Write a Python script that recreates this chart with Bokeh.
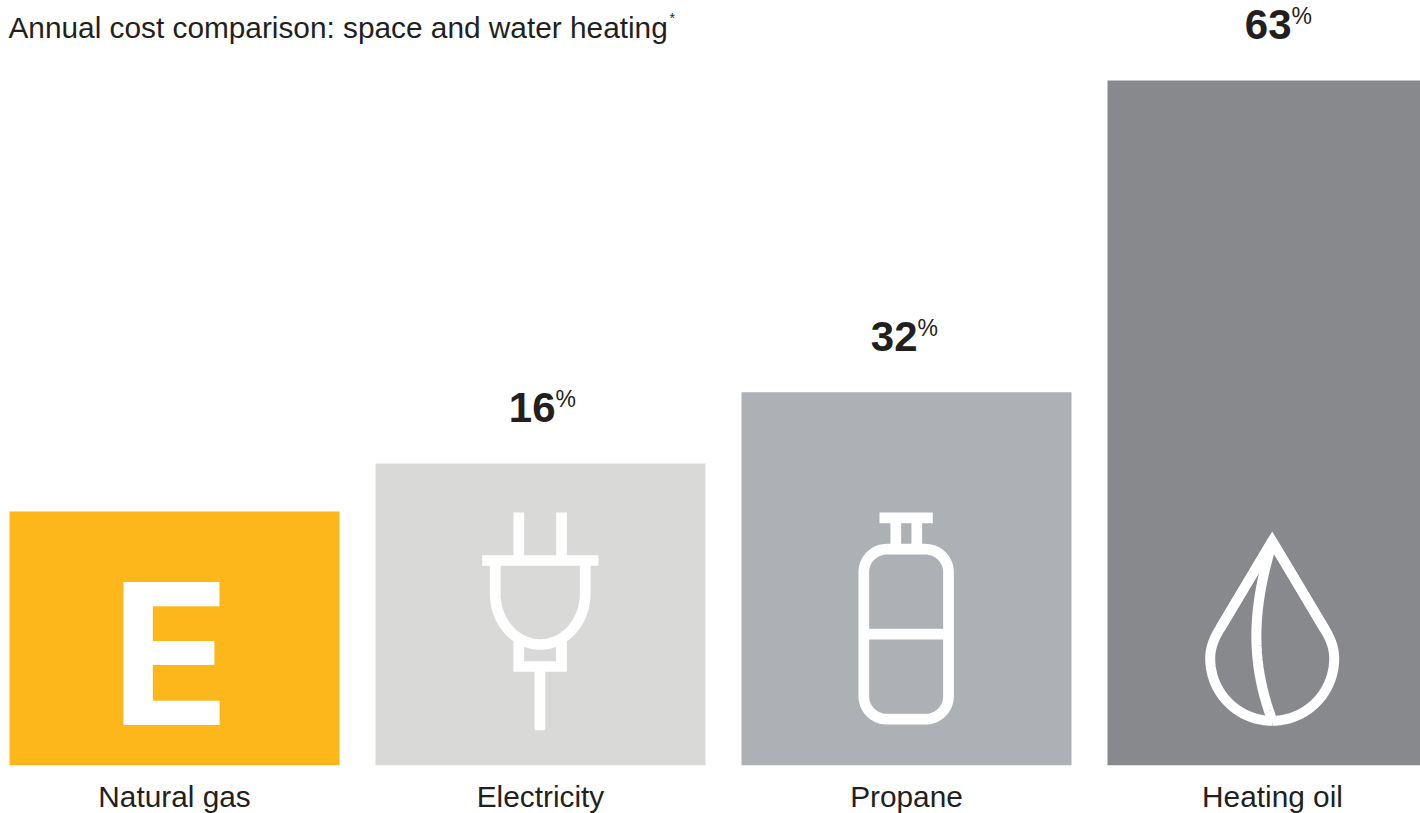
from bokeh.plotting import figure
from bokeh.models import Range1d, FixedTicker, ColumnDataSource
from bokeh.core.properties import value
from bokeh.embed import file_html
from bokeh.resources import INLINE
import numpy as np

# ---- chart data
title_text = "Annual cost comparison: space and water heating"
categories = ["Natural gas", "Electricity", "Propane", "Heating oil"]
cost_index = [100, 118.9, 146.9, 269.7]          # bar heights, natural gas = 100
pct_labels = ["", "16", "32", "63"]
bar_colors = ["#FDB71A", "#D9D9D7", "#ADB0B4", "#87898D"]
label_dx = [0, 15, 11, 19]                       # px shift of each figure's right edge

# ---- page geometry of the scales
PX_PER_CAT, PX_PER_UNIT = 366.0, 2.54
LEFT, RIGHT, TOP, BASE, C0 = 0, 1420, 0, 765, 174
def X(px): return (np.asarray(px, float) - C0) / PX_PER_CAT
def Y(py): return (BASE - np.asarray(py, float)) / PX_PER_UNIT

INK = "#231F20"
FONT = value("Liberation Sans")

p = figure(width=1420, height=813, output_backend="svg", toolbar_location=None,
           x_range=Range1d(float(X(LEFT)), float(X(RIGHT))),
           y_range=Range1d(0, float(Y(TOP))),
           frame_height=765, frame_width=1420,
           min_border=0, background_fill_color="white", outline_line_color=None)
p.grid.visible = False
p.yaxis.visible = False
ax = p.xaxis[0]
ax.ticker = FixedTicker(ticks=list(range(len(categories))))
ax.major_label_overrides = {i: c for i, c in enumerate(categories)}
ax.major_label_text_font = "Liberation Sans"
ax.major_label_text_font_size = "29.8px"
ax.major_label_text_color = INK
ax.major_label_standoff = 8
ax.axis_line_color = None
ax.major_tick_line_color = None
ax.minor_tick_line_color = None

idx = list(range(len(categories)))
src = ColumnDataSource(dict(x=idx, top=cost_index, color=bar_colors))
p.vbar(x="x", top="top", bottom=0, width=330 / PX_PER_CAT, color="color", line_color=None, source=src)

# ---- percentage labels
lab = ColumnDataSource(dict(x=idx[1:], y=cost_index[1:], t=pct_labels[1:], dx=label_dx[1:],
                            pct=["%"] * 3))
p.text(x="x", y="y", text="t", source=lab, x_offset="dx", y_offset=-56, text_align="right",
       text_baseline="alphabetic", text_font=FONT, text_font_style="bold",
       text_font_size="42px", text_color=INK)
p.text(x="x", y="y", text="pct", source=lab, x_offset="dx", y_offset=-64, text_align="left",
       text_baseline="alphabetic", text_font=FONT, text_font_size="23px", text_color=INK)

# ---- title
p.text(x=[float(X(8))], y=[float(Y(26.5))], text=[title_text], text_align="left",
       text_baseline="alphabetic", text_font=FONT, text_font_size="29.8px", text_color=INK)
p.text(x=[float(X(669))], y=[float(Y(17))], text=["*"], text_align="left",
       text_baseline="alphabetic", text_font=FONT, text_font_size="14px", text_color=INK)

# ---- icons (page-pixel outlines mapped through the scales)
def cubic(a, b, c, d, n=24):
    t = np.linspace(0, 1, n)[:, None]
    a, b, c, d = map(lambda v: np.array(v, float), (a, b, c, d))
    return ((1-t)**3*a + 3*(1-t)**2*t*b + 3*(1-t)*t**2*c + t**3*d).tolist()

def stroke(pts, w, join="miter"):
    pts = np.array(pts, float)
    p.line(x=X(pts[:, 0]).tolist(), y=Y(pts[:, 1]).tolist(), line_color="white", line_width=w,
           line_cap="butt", line_join=join)

W = 10.7
# plug
stroke([(518.3, 512), (518.3, 558)], W)
stroke([(561, 512), (561, 558)], W)
stroke([(481.7, 560), (598, 560)], W)
K = 0.5523
plug = [(494.7, 560), (494.7, 593)]
plug += cubic((494.7, 593), (494.7, 593+51*K), (539.7-45*K, 644), (539.7, 644))
plug += cubic((539.7, 644), (539.7+45*K, 644), (584.7, 593+51*K), (584.7, 593))
plug += [(584.7, 560)]
stroke(plug, W)
stroke([(518.3, 637), (518.3, 666), (561, 666), (561, 637)], W)
stroke([(539.4, 666), (539.4, 729.7)], W)

# cylinder
stroke([(879, 517.3), (932.3, 517.3)], W)
stroke([(895.3, 520), (895.3, 548)], W)
stroke([(916.3, 520), (916.3, 548)], W)
L, R, T, B, r = 863.3, 948, 548.7, 718.7, 23
body = [(L+r, T), (R-r, T)]
body += cubic((R-r, T), (R-r+r*K, T), (R, T+r-r*K), (R, T+r))
body += [(R, B-r)]
body += cubic((R, B-r), (R, B-r+r*K), (R-r+r*K, B), (R-r, B))
body += [(L+r, B)]
body += cubic((L+r, B), (L+r-r*K, B), (L, B-r+r*K), (L, B-r))
body += [(L, T+r)]
body += cubic((L, T+r), (L, T+r-r*K), (L+r-r*K, T), (L+r, T))
stroke(body, W)
stroke([(L, 633.7), (R, 633.7)], W)

# drop
w = 10
cx, tip = 1271.7, 540.7
left = [(cx, tip), (1219.6, 628)]
left += cubic((1219.6, 628), (1213, 638.5), (1209.7, 648), (1209.7, 658))
left += cubic((1209.7, 658), (1209.7, 692.4), (1237.5, 720.3), (cx, 720.3))
right = [(2*cx - a, b) for a, b in left]
stroke(right[::-1] + left[1:], w, "round")
stroke(right[:2][::-1] + left[:2], w)
stroke(cubic((1270, 548), (1252, 610), (1250, 660), (1271, 718)), w)

# ---- natural gas logo
p.text(x=[float(X(110))], y=[float(Y(653))], text=["E"], text_align="left",
       text_baseline="alphabetic", text_font=value("Inter"), text_font_style="bold",
       text_font_size="197px", text_color="white")

open("out.html", "w").write(file_html(p, INLINE))
